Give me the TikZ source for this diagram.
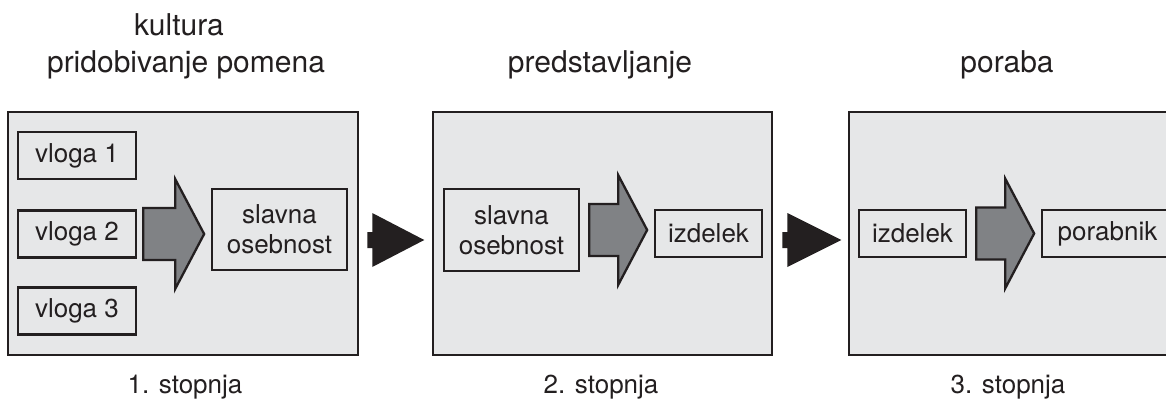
\documentclass[tikz,border=0pt]{standalone}
\usepackage{fontspec}
\setmainfont{TeX Gyre Heros}
\definecolor{ink}{HTML}{231F20}
\definecolor{panelfill}{HTML}{E6E7E8}
\definecolor{arrowgray}{HTML}{808285}
\begin{document}
\begin{tikzpicture}[x=1pt,y=-1pt,
  panel/.style={draw=ink,fill=panelfill,line width=2.5pt,inner sep=0pt},
  box/.style={draw=ink,fill=panelfill,line width=2.3pt,inner sep=0pt,text=ink,
    font=\fontsize{26}{30}\selectfont,align=center},
  title/.style={text=ink,font=\fontsize{30}{37}\selectfont,anchor=base,inner sep=0pt},
  stage/.style={text=ink,font=\fontsize{26}{30}\selectfont,anchor=base,inner sep=0pt},
  grayarr/.style={draw=ink,fill=arrowgray,line width=2.3pt,line join=miter},
  blackarr/.style={fill=ink}]
\useasboundingbox (0,0) rectangle (1166,417);
\clip (0,0) rectangle (1166,417);
\fill[white] (0,0) rectangle (1166,417);

% panels
\node[panel,minimum width=350pt,minimum height=243pt] (p1) at (183,233.5) {};
\node[panel,minimum width=339pt,minimum height=243pt] (p2) at (602.5,233.5) {};
\node[panel,minimum width=341pt,minimum height=243pt] (p3) at (1019.5,233.5) {};

% titles
\node[title] (t1a) at (179,36) {kultura};
\node[title] (t1b) at (186,73) {pridobivanje pomena};
\node[title] (t2) at (600,73) {predstavljanje};
\node[title] (t3) at (1007,73) {poraba};

% stage labels
\node[stage] (s1lab) at (185,393) {1. stopnja};
\node[stage] (s2lab) at (601,393) {2. stopnja};
\node[stage] (s3lab) at (1008,393) {3. stopnja};

% stage 1 boxes
\node[box,minimum width=118pt,minimum height=47pt] (v1) at (77,155.5) {vloga 1};
\node[box,minimum width=118pt,minimum height=47pt] (v2) at (77,234) {vloga 2};
\node[box,minimum width=118pt,minimum height=47pt] (v3) at (77,311) {vloga 3};
\node[box,minimum width=135pt,minimum height=81pt] (so1) at (279.5,229.5) {slavna\\osebnost};

% stage 2 boxes
\node[box,minimum width=135pt,minimum height=82pt] (so2) at (511.5,230) {slavna\\osebnost};
\node[box,minimum width=107pt,minimum height=47pt] (iz2) at (708.5,233.5) {izdelek};

% stage 3 boxes
\node[box,minimum width=107pt,minimum height=47pt] (iz3) at (912.5,233.5) {izdelek};
\node[box,minimum width=131pt,minimum height=47pt] (pb) at (1107.5,233.5) {porabnik};

% gray block arrows
\coordinate (ga1) at ([xshift=6pt]v2.east);
\draw[grayarr] (ga1) ++(0,-26) -- ++(32,0) -- ++(0,-29) -- ++(29,55) -- ++(-29,55)
  -- ++(0,-29) -- ++(-32,0) -- cycle;
\coordinate (ga2) at ([xshift=9pt]so2.east);
\draw[grayarr] (ga2) ++(0,-26) -- ++(29,0) -- ++(0,-29) -- ++(29,55) -- ++(-29,55)
  -- ++(0,-29) -- ++(-29,0) -- cycle;
\coordinate (ga3) at ([xshift=9pt]iz3.east);
\draw[grayarr] (ga3) ++(0,-26) -- ++(29,0) -- ++(0,-29) -- ++(29,55) -- ++(-29,55)
  -- ++(0,-29) -- ++(-29,0) -- cycle;

% black arrows between panels
\coordinate (b1) at ([xshift=8pt]p1.east |- 0,240);
\fill[blackarr] (b1) ++(0,-8) -- ++(5,0) -- ++(0,-19) -- ++(52,27) -- ++(-52,27)
  -- ++(0,-19) -- ++(-5,0) -- cycle;
\coordinate (b2) at ([xshift=9pt]p2.east |- 0,240);
\fill[blackarr] (b2) ++(0,-8) -- ++(5,0) -- ++(0,-19) -- ++(54,27) -- ++(-54,27)
  -- ++(0,-19) -- ++(-5,0) -- cycle;
\end{tikzpicture}
\end{document}
